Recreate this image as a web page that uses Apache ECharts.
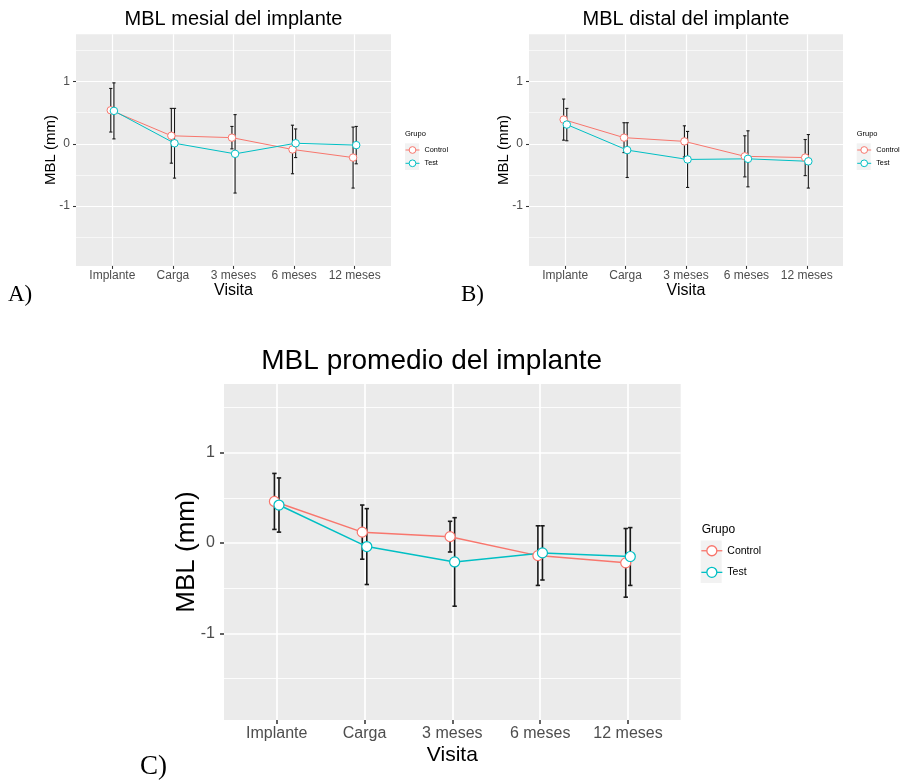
<!DOCTYPE html>
<html>
<head>
<meta charset="utf-8">
<script src="https://cdn.jsdelivr.net/npm/echarts@6/dist/echarts.min.js"></script>
<style>
  html, body { margin: 0; padding: 0; background: #ffffff; }
  #chart { width: 901px; height: 781px; }
</style>
</head>
<body>
<div id="chart"></div>
<script>
// Visitas (eje X) y grupos
const visitas = ['Implante', 'Carga', '3 meses', '6 meses', '12 meses'];
const grupos = ['Control', 'Test'];
const marcasY = [-1, 0, 1];

// MBL mesial (mm): media y semiamplitud de la barra de error por visita
const mesialControlMedia = [0.54, 0.13, 0.10, -0.09, -0.22];
const mesialControlError = [0.35, 0.44, 0.18, 0.39, 0.49];
const mesialTestMedia = [0.53, 0.01, -0.16, 0.01, -0.02];
const mesialTestError = [0.45, 0.56, 0.63, 0.23, 0.30];

// MBL distal (mm)
const distalControlMedia = [0.39, 0.10, 0.04, -0.20, -0.22];
const distalControlError = [0.33, 0.24, 0.25, 0.33, 0.29];
const distalTestMedia = [0.31, -0.10, -0.25, -0.24, -0.28];
const distalTestError = [0.26, 0.44, 0.45, 0.45, 0.43];

// MBL promedio (mm)
const promedioControlMedia = [0.46, 0.12, 0.07, -0.14, -0.22];
const promedioControlError = [0.31, 0.30, 0.17, 0.33, 0.38];
const promedioTestMedia = [0.42, -0.04, -0.21, -0.11, -0.15];
const promedioTestError = [0.30, 0.42, 0.49, 0.30, 0.32];

const COLORES = { Control: '#F8766D', Test: '#00BFC4' };
const DESPLAZ = { Control: -0.026, Test: 0.026 };   // separación de grupos en cada visita
const FUENTE = '"Liberation Sans", Arial, Helvetica, sans-serif';
const FUENTE_SERIF = '"Liberation Serif", "Times New Roman", serif';
const Y_MIN = -1.96, Y_MAX = 1.76;
const X_MIN = -0.6, X_MAX = 4.6;

const estiloPeq = {
  axisFont: 12, yNameFont: 15, xNameFont: 16, yNameGap: 17.5, xNameGap: 17,
  tick: 3, xMargin: 4, yMargin: 6, major: 1.2, minor: 0.6,
  line: 1, err: 1.1, cap: 1.6, sym: 7.5, symBorder: 1
};
const estiloGr = {
  axisFont: 16, yNameFont: 26, xNameFont: 21, yNameGap: 24, xNameGap: 25,
  tick: 4, xMargin: 5.5, yMargin: 9, major: 1.7, minor: 0.85,
  line: 1.5, err: 1.6, cap: 2.2, sym: 10, symBorder: 1.2
};

const paneles = [
  {
    grid: { left: 76, top: 34.3, width: 315, height: 231.6 }, st: estiloPeq,
    Control: [mesialControlMedia, mesialControlError],
    Test: [mesialTestMedia, mesialTestError]
  },
  {
    grid: { left: 529, top: 34.3, width: 314, height: 231.6 }, st: estiloPeq,
    Control: [distalControlMedia, distalControlError],
    Test: [distalTestMedia, distalTestError]
  },
  {
    grid: { left: 224, top: 384, width: 456.7, height: 336 }, st: estiloGr,
    Control: [promedioControlMedia, promedioControlError],
    Test: [promedioTestMedia, promedioTestError]
  }
];

const grids = [], xAxes = [], yAxes = [];
const lineas = [], barras = [], puntos = [];

paneles.forEach((p, gi) => {
  const st = p.st;
  grids.push(Object.assign({
    show: true, backgroundColor: '#EBEBEB', borderWidth: 0,
    containLabel: false, outerBoundsMode: 'none'
  }, p.grid));

  xAxes.push({
    type: 'value', gridIndex: gi, min: X_MIN, max: X_MAX, splitNumber: 5,
    name: 'Visita', nameLocation: 'middle', nameGap: st.xNameGap, nameMoveOverlap: false,
    nameTextStyle: { fontFamily: FUENTE, fontSize: st.xNameFont, color: '#000' },
    axisLine: { show: false, onZero: false },
    axisTick: { show: true, length: st.tick, customValues: [0, 1, 2, 3, 4],
      lineStyle: { color: '#333333', width: st.major * 0.9 } },
    axisLabel: {
      customValues: [0, 1, 2, 3, 4], margin: st.xMargin,
      fontFamily: FUENTE, fontSize: st.axisFont, color: '#4D4D4D',
      formatter: v => (Number.isInteger(v) && visitas[v] !== undefined) ? visitas[v] : ''
    },
    splitLine: { show: true, lineStyle: { color: '#FFFFFF', width: st.major } }
  });

  yAxes.push({
    type: 'value', gridIndex: gi, min: Y_MIN, max: Y_MAX, splitNumber: 4,
    name: 'MBL (mm)', nameLocation: 'middle', nameGap: st.yNameGap, nameMoveOverlap: false,
    nameTextStyle: { fontFamily: FUENTE, fontSize: st.yNameFont, color: '#000' },
    axisLine: { show: false, onZero: false },
    axisTick: { show: true, length: st.tick, customValues: marcasY,
      lineStyle: { color: '#333333', width: st.major * 0.9 } },
    axisLabel: {
      customValues: marcasY, margin: st.yMargin,
      fontFamily: FUENTE, fontSize: st.axisFont, color: '#4D4D4D',
      formatter: v => (Number.isInteger(v) && marcasY.indexOf(v) >= 0) ? String(v) : ''
    },
    splitLine: { show: true, lineStyle: { color: '#FFFFFF', width: st.major } },
    minorTick: { show: false, splitNumber: 2 },
    minorSplitLine: { show: true, lineStyle: { color: '#FFFFFF', width: st.minor } }
  });

  grupos.forEach(g => {
    const [media, error] = p[g];
    const dx = DESPLAZ[g];
    const col = COLORES[g];
    lineas.push({
      type: 'line', name: g, xAxisIndex: gi, yAxisIndex: gi, z: 3,
      data: media.map((m, i) => [i + dx, m]),
      symbol: 'circle', showSymbol: false, silent: true, animation: false,
      lineStyle: { color: col, width: st.line },
      itemStyle: { color: '#FFFFFF', borderColor: col, borderWidth: st.symBorder }
    });
    barras.push({
      type: 'custom', xAxisIndex: gi, yAxisIndex: gi, z: 2, silent: true, animation: false,
      data: media.map((m, i) => [i + dx, m - error[i], m + error[i]]),
      encode: { x: 0, y: [1, 2] },
      renderItem: (params, api) => {
        const x = api.value(0);
        const bajo = api.coord([x, api.value(1)]);
        const alto = api.coord([x, api.value(2)]);
        const estilo = { stroke: '#1A1A1A', lineWidth: st.err };
        const h = st.cap;
        return {
          type: 'group',
          children: [
            { type: 'line', shape: { x1: bajo[0], y1: bajo[1], x2: alto[0], y2: alto[1] }, style: estilo },
            { type: 'line', shape: { x1: bajo[0] - h, y1: bajo[1], x2: bajo[0] + h, y2: bajo[1] }, style: estilo },
            { type: 'line', shape: { x1: alto[0] - h, y1: alto[1], x2: alto[0] + h, y2: alto[1] }, style: estilo }
          ]
        };
      }
    });
    puntos.push({
      type: 'scatter', name: g, xAxisIndex: gi, yAxisIndex: gi, z: 4, silent: true, animation: false,
      data: media.map((m, i) => [i + dx, m]),
      symbol: 'circle', symbolSize: st.sym,
      itemStyle: { color: '#FFFFFF', borderColor: col, borderWidth: st.symBorder, opacity: 1 }
    });
  });
});

function leyenda(left, top, iw, ih, gap, font, lw) {
  return {
    data: grupos, orient: 'vertical', left: left, top: top, padding: 0,
    itemWidth: iw, itemHeight: ih, itemGap: gap, selectedMode: false,
    textStyle: { fontFamily: FUENTE, fontSize: font, color: '#000', lineHeight: ih },
    lineStyle: { width: lw }, itemStyle: { borderWidth: lw }
  };
}

function texto(x, y, str, size, fam, align) {
  return {
    type: 'text', x: x, y: y, silent: true,
    style: { text: str, fontFamily: fam || FUENTE, fontSize: size, fill: '#000',
      align: align || 'center', verticalAlign: 'middle' }
  };
}

function fondoClave(x, y, w, h) {
  return { type: 'rect', shape: { x: x, y: y, width: w, height: h }, silent: true, z: 0,
    style: { fill: '#F2F2F2' } };
}

const option = {
  backgroundColor: '#FFFFFF',
  animation: false,
  grid: grids,
  xAxis: xAxes,
  yAxis: yAxes,
  legend: [
    leyenda(405, 145.8, 14, 8.4, 4.9, 7.3, 1),
    leyenda(856.7, 145.8, 14, 8.4, 4.9, 7.3, 1),
    leyenda(700.7, 544.5, 21, 12.5, 9.1, 10.5, 1.3)
  ],
  graphic: [
    texto(233.5, 19.5, 'MBL mesial del implante', 20),
    texto(686, 19.5, 'MBL distal del implante', 20),
    texto(431.7, 361.7, 'MBL promedio del implante', 28),
    texto(8, 295, 'A)', 23, FUENTE_SERIF, 'left'),
    texto(461, 295, 'B)', 23, FUENTE_SERIF, 'left'),
    texto(140, 767, 'C)', 27, FUENTE_SERIF, 'left'),
    texto(405, 134.3, 'Grupo', 7.5, FUENTE, 'left'),
    texto(856.7, 134.3, 'Grupo', 7.5, FUENTE, 'left'),
    texto(701.7, 530, 'Grupo', 12, FUENTE, 'left'),
    fondoClave(405, 143.3, 14, 26.7),
    fondoClave(856.7, 143.3, 14, 26.7),
    fondoClave(700.7, 540.5, 21, 42.5)
  ],
  series: lineas.concat(barras, puntos)
};

const chart = echarts.init(document.getElementById('chart'), null, { renderer: 'canvas' });
chart.setOption(option);
</script>
</body>
</html>
